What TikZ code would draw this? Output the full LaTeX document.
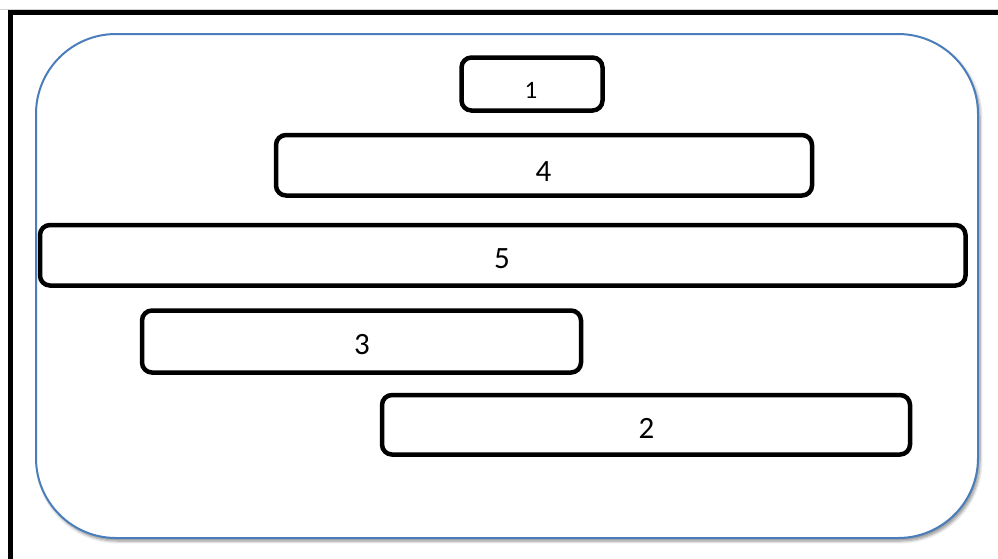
\documentclass[tikz,border=0pt]{standalone}
\usepackage{fontspec}
\setmainfont{Carlito}
\usetikzlibrary{shadows.blur}
\definecolor{panelblue}{HTML}{4A7EBB}
\tikzset{
  stepbox/.style={draw=black, line width=4.5pt, rounded corners=10pt, fill=white, inner sep=0pt},
  num/.style={font=\fontsize{31}{31}\selectfont, inner sep=0pt},
  smallnum/.style={font=\fontsize{25}{25}\selectfont, inner sep=0pt},
}
\begin{document}
\begin{tikzpicture}[x=1pt, y=-1pt]
  \useasboundingbox (0,0) rectangle (998,558);
  % page edge and outer frame
  \draw[gray!35, line width=0.8pt] (0,9) -- (998,9);
  \draw[black, line width=5pt] (10,600) -- (10,12.5) -- (1010,12.5);
  % rounded panel
  \draw[panelblue, line width=2pt, fill=white, rounded corners=80pt,
        blur shadow={shadow xshift=2pt, shadow yshift=-3pt, shadow blur radius=3pt, shadow blur steps=6, shadow opacity=45}]
    (36,34) rectangle (978,538);
  % boxes
  \node[stepbox, minimum width=141pt, minimum height=53pt] (b1) at (532,84) {};
  \node[stepbox, minimum width=536pt, minimum height=60.5pt] (b4) at (544,165.25) {};
  \node[stepbox, minimum width=925.5pt, minimum height=60.5pt] (b5) at (502.75,255.25) {};
  \node[stepbox, minimum width=439pt, minimum height=62pt] (b3) at (361.5,341.5) {};
  \node[stepbox, minimum width=528pt, minimum height=59.5pt] (b2) at (646,424.75) {};
  % labels
  \node[smallnum] (t1) at (531,90.5) {1};
  \node[num] (t4) at (543.5,172) {4};
  \node[num] (t5) at (502,259) {5};
  \node[num] (t3) at (362,344.5) {3};
  \node[num] (t2) at (646.5,428) {2};
\end{tikzpicture}
\end{document}
